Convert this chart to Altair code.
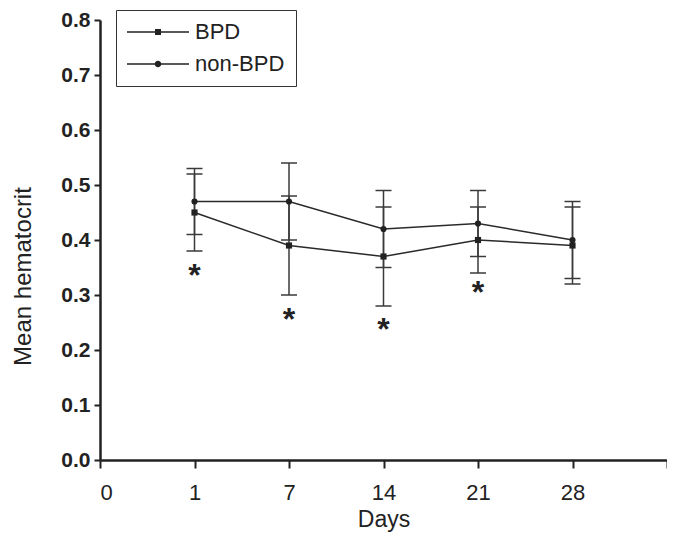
import altair as alt
import pandas as pd

# ---- data ----
tick_labels = ["0", "1", "7", "14", "21", "28", ""]
days = ["1", "7", "14", "21", "28"]
groups = ["BPD", "non-BPD"]

bpd_mean = [0.45, 0.39, 0.37, 0.40, 0.39]
bpd_low = [0.38, 0.30, 0.28, 0.34, 0.32]
bpd_high = [0.52, 0.48, 0.46, 0.46, 0.46]

non_mean = [0.47, 0.47, 0.42, 0.43, 0.40]
non_low = [0.41, 0.40, 0.35, 0.37, 0.33]
non_high = [0.53, 0.54, 0.49, 0.49, 0.47]

star_days = ["1", "7", "14", "21"]
star_y = [0.349, 0.269, 0.251, 0.319]

y_ticks = [0.0, 0.1, 0.2, 0.3, 0.4, 0.5, 0.6, 0.7, 0.8]

# ---- tables ----
rows = []
for g, m, lo, hi in [("BPD", bpd_mean, bpd_low, bpd_high),
                     ("non-BPD", non_mean, non_low, non_high)]:
    for d, a, b, c in zip(days, m, lo, hi):
        rows.append({"group": g, "day": d, "pos": tick_labels.index(d),
                     "mean": a, "low": b, "high": c})
df = pd.DataFrame(rows)

stars = pd.DataFrame({"day": star_days,
                      "pos": [tick_labels.index(d) for d in star_days],
                      "sy": star_y})

FONT = "Liberation Sans"
INK = "#222222"

label_expr = "[" + ",".join("'%s'" % t for t in tick_labels) + "][datum.value]"

xscale = alt.Scale(domain=[0, 6], nice=False, zero=False)
yscale = alt.Scale(domain=[0, 0.8], nice=False)

xaxis = alt.Axis(values=list(range(7)), labelExpr=label_expr, grid=False,
                 labelFont=FONT, labelFontSize=22, labelColor=INK, labelPadding=14,
                 tickSize=8, tickWidth=2, tickColor=INK,
                 domainColor=INK, domainWidth=2.5,
                 titleFont=FONT, titleFontSize=23, titleFontWeight="normal",
                 titleColor=INK, titleY=66, titleBaseline="alphabetic")
yaxis = alt.Axis(values=y_ticks, format=".1f", grid=False,
                 labelFont=FONT, labelFontSize=21, labelFontWeight="bold",
                 labelColor=INK, labelPadding=4,
                 tickSize=6, tickWidth=2, tickColor=INK,
                 domainColor=INK, domainWidth=2.5,
                 titleFont=FONT, titleFontSize=24, titleFontWeight="normal",
                 titleColor=INK, titleAngle=270, titleX=-70, titleY=256,
                 titleBaseline="alphabetic", titleAlign="center")


def X(field):
    return alt.X(field, type="quantitative", scale=xscale, axis=xaxis, title="Days")


def Y(field):
    return alt.Y(field, type="quantitative", scale=yscale, axis=yaxis,
                 title="Mean hematocrit")


base = alt.Chart(df)

lines = base.mark_line(color="#2a2a2a", strokeWidth=1.5).encode(
    x=X("pos"), y=Y("mean"), detail="group:N")

bars = base.mark_rule(color="#3a3a3a", strokeWidth=1.5).encode(
    x=X("pos"), y=Y("low"), y2="high:Q")

cap_lo = base.mark_tick(orient="horizontal", size=16, thickness=1.5,
                        color="#3a3a3a", opacity=1).encode(x=X("pos"), y=Y("low"))
cap_hi = base.mark_tick(orient="horizontal", size=16, thickness=1.5,
                        color="#3a3a3a", opacity=1).encode(x=X("pos"), y=Y("high"))

points = base.mark_point(filled=True, size=38, opacity=1, color=INK).encode(
    x=X("pos"), y=Y("mean"),
    shape=alt.Shape("group:N", scale=alt.Scale(domain=groups, range=["square", "circle"]),
                    legend=None))

# legend symbols: a thin filled bar (the line) with the marker in its middle (unit = 10 px)
path_bpd = "M-3.1,-0.075H3.1V0.075H-3.1ZM-0.3,-0.3H0.3V0.3H-0.3Z"
path_non = ("M-3.1,-0.075H3.1V0.075H-3.1Z"
            "M0.33,0A0.33,0.33 0 1,1 -0.33,0A0.33,0.33 0 1,1 0.33,0Z")

leg = alt.Legend(title=None, orient="none", legendX=16, legendY=-10,
                 direction="vertical",
                 symbolSize=400, symbolStrokeWidth=0,
                 symbolFillColor=INK,
                 symbolOffset=20,
                 labelFont=FONT, labelFontSize=22, labelColor=INK,
                 labelOffset=26, padding=11, rowPadding=10,
                 strokeColor="#333333")

legend_layer = base.transform_filter("datum.pos < 0").mark_point(
    filled=True, color=INK, opacity=1).encode(
    x=X("pos"), y=Y("mean"),
    shape=alt.Shape("group:N",
                    scale=alt.Scale(domain=groups, range=[path_bpd, path_non]),
                    legend=leg))

star_marks = alt.Chart(stars).mark_text(
    text="*", font=FONT, fontSize=32, fontWeight="bold", baseline="alphabetic",
    dy=18, color=INK).encode(x=X("pos"), y=Y("sy"))

chart = alt.layer(lines, bars, cap_lo, cap_hi, points, star_marks, legend_layer).resolve_scale(
    shape="independent"
).properties(
    width=567, height=440,
    background="white",
    autosize=alt.AutoSizeParams(type="none"),
    padding={"left": 92, "top": 12, "right": 0, "bottom": 72},
).configure_view(strokeWidth=0)

chart.save("out.html", embed_options={"renderer": "svg", "actions": False})
